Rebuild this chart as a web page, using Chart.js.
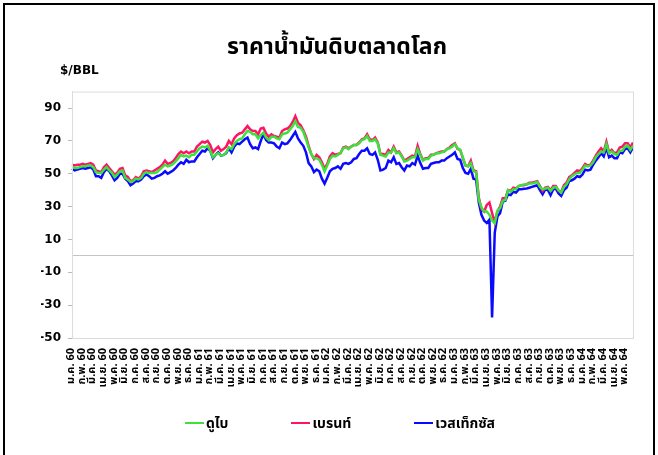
<!DOCTYPE html>
<html>
<head>
<meta charset="utf-8">
<script src="https://cdn.jsdelivr.net/npm/chart.js@4.4.1/dist/chart.umd.min.js"></script>
<style>
  html, body { margin: 0; padding: 0; background: #fff; }
  #wrap { position: relative; width: 658px; height: 455px; overflow: hidden; }
  #frame { position: absolute; left: 3px; top: 3px; width: 652px; height: 470px;
           border: 2px solid #000; box-sizing: border-box; pointer-events: none; }
  #legend { position: absolute; left: 22px; width: 636px; top: 414px; height: 18px;
            display: flex; justify-content: center; align-items: center; gap: 63px;
            font: bold 14px Tahoma, 'Noto Sans Thai', 'DejaVu Sans', sans-serif; color: #000; }
  #legend .item { display: flex; align-items: center; white-space: nowrap; }
  #legend .swatch { display: inline-block; width: 19px; height: 2px; margin-right: 2px; }
</style>
</head>
<body>
<div id="wrap">
  <canvas id="oilChart" width="658" height="455"></canvas>
  <div id="legend"></div>
  <div id="frame"></div>
</div>
<script>
// month ticks (Thai short month + Buddhist year, 2 digits)
const monthNames = ['ม.ค.', 'ก.พ.', 'มี.ค.', 'เม.ย.', 'พ.ค.', 'มิ.ย.', 'ก.ค.', 'ส.ค.', 'ก.ย.', 'ต.ค.', 'พ.ย.', 'ธ.ค.'];
const yearLabels = ['60', '61', '62', '63', '64'];
const monthCount = 53;       // ม.ค. 60 .. พ.ค. 64
const pointsPerMonth = 4;    // weekly readings

const yTicks = [-50, -30, -10, 0, 10, 30, 50, 70, 90];

// US$/bbl, 4 readings per month
const dubai = [
  // 2560
  54,53.5,53.5,54, 54.5,54.5,55,55, 54,51,50.5,50.5, 52.5,54,52,50.5, 48,49.5,51.5,52, 47.5,46.5,45,45.5,
  47,46.5,47.5,50, 51,50.5,50.5,50.5, 51,52.5,54,55.5, 54.5,55,56,57.5, 59.5,61.5,60.5,61, 60,61.5,61.5,63.5,
  // 2561
  65.5,66.5,66,67, 64,60,61.5,62.5, 61,61.5,63,66, 65,68,70,71, 71.5,74,76,75.5, 74,74,71.5,73.5,
  75,72,70.5,72.5, 72.5,71.5,71,74, 74.5,75,77,79, 82,78.5,78,75.5, 71,66,62,59.5, 59.5,58.5,55.5,51.5,
  // 2562
  55,59,61,60.5, 61.5,62.5,65.5,66, 65,66.5,67.5,67.5, 68.5,70.5,71,73, 70,70,71,68.5, 61.5,61,60.5,63,
  63,65.5,62.5,63, 60.5,57.5,58,59, 60,60,65,61.5, 58,59,59,61, 61.5,62.5,62.5,63, 63.5,65,65.5,66.5,
  // 2563
  68,65.5,64.5,60, 55,54.5,56.5,51.5, 51,34,29.5,27, 27,25,21.5,20, 27.5,29,33.5,34, 40,39,40.5,40.5,
  42.5,43,43.5,43.5, 44,44,44.5,45, 42,40.5,41,41.5, 39.5,41.5,42,40, 38.5,42,43.5,46.5, 48.5,49.5,50.5,50.5,
  // 2564
  52.5,55,54.5,55, 57,60,62,63.5, 63,68,62.5,63.5, 62,61.5,64,64, 66.5,67,64.5,67
];
const brent = [
  // 2560
  55.5,55,55.5,55.5, 56,55.5,56,56.5, 55.5,52,51.5,51, 54,55.5,53.5,51.5, 49.5,50.5,53,53.5, 49,48,45.5,46,
  48,47,48.5,51.5, 52,51.5,51,52, 53,54,55.5,58, 56,56.5,57.5,59.5, 62,63.5,62.5,63.5, 62.5,63.5,63.5,66.5,
  // 2561
  68,69.5,69,70, 67.5,63,65,66.5, 64,65,66.5,70, 68,71.5,73.5,74.5, 75,77,79,77, 76,76,74,77.5,
  78,74.5,72.5,74, 73,72.5,72,76, 77,77.5,79,81.5, 85,81,79.5,76.5, 72.5,67,62,59, 61.5,60,57,53,
  // 2562
  56,60.5,62.5,61.5, 62,62.5,66,66.5, 65.5,66.5,67.5,67.5, 69,71,71.5,74, 71,70.5,72,69, 62,62,61.5,64.5,
  63,66.5,63,63.5, 61,58,59,60, 61,60.5,67,62, 58.5,59.5,59.5,61.5, 61.5,62.5,63,63.5, 63.5,65,66,67.5,
  // 2563
  68.5,65,64.5,59.5, 55,54.5,58,52, 51.5,35.5,28.5,27, 31,32.5,26,20.5, 27,30,35,35, 40,39.5,41.5,41,
  42.5,43,43,43.5, 44.5,44.5,45,45.5, 42.5,39.5,41.5,42, 40,42.5,42.5,39.5, 39,43,44.5,48, 49,50.5,52,51.5,
  // 2564
  53.5,56,55,55.5, 58,61,63.5,65.5, 63.5,69.5,63,64.5, 62.5,63,66,66.5, 68.5,68.5,66,69
];
const wti = [
  // 2560
  53,52,52.5,53, 53.5,53,53.5,54, 52.5,48.5,48.5,47.5, 51,53,51.5,49, 46,47.5,50,50, 47,45.5,43,44,
  45.5,45.5,46.5,48.5, 49.5,48.5,47,47.5, 48.5,49,50,51.5, 50,51,52,53.5, 55.5,57,56,58.5, 57,57.5,57.5,60,
  // 2561
  62,64,63.5,65.5, 64,59.5,61.5,63, 61,61.5,62.5,65.5, 63,66.5,68.5,68, 69.5,71,72,68, 65.5,66,65,70,
  74,70.5,69,69, 68.5,66.5,65.5,69, 68,68.5,70.5,73, 75.5,71.5,69,67, 63,56.5,54.5,51, 52.5,51.5,47,44,
  // 2562
  47.5,51.5,53,53.5, 54.5,53,56,56.5, 56,57,59,59.5, 62,64,64,65.5, 62,61.5,63,58.5, 52,52.5,53.5,58,
  57,60,56,56.5, 54,52,55,54.5, 56.5,55.5,61,56.5, 53,53.5,53.5,56, 56.5,57,57,58, 58,59.5,60.5,61.5,
  // 2563
  63,59,58.5,53.5, 50.5,50,53,47, 46.5,32.5,25,21.5, 20,22,-37.5,14, 24,26,33,33.5, 37.5,37,39,38.5,
  40.5,40.5,40.8,41, 41.5,42,42.5,43, 40,37.5,40.5,40, 37,40.5,40.8,38, 36.5,40,41.5,45.5, 46,47,48.5,48,
  // 2564
  49.5,52.5,52,52.5, 55.5,58,60,62.5, 60.5,66,60,61, 59.5,59.5,63,62.5, 65,65.5,63,66
];

const labels = [];
for (let i = 0; i < monthCount * pointsPerMonth; i++) {
    labels.push(i);
}
function monthLabel(i) {
    return monthNames[i % 12] + ' ' + yearLabels[Math.floor(i / 12)];
}

const thaiFont = "Tahoma, 'Noto Sans Thai', 'Noto Sans Thai UI', 'DejaVu Sans', sans-serif";
const tickFont = "'DejaVu Sans', Verdana, sans-serif";

// light grey frame round the plot + the unit text above the axis
const plotFrame = {
    id: 'plotFrame',
    afterDraw(chart) {
        const a = chart.chartArea;
        const ctx = chart.ctx;
        ctx.save();
        ctx.strokeStyle = '#dcdcdc';
        ctx.lineWidth = 1;
        ctx.strokeRect(a.left + 0.5, a.top + 0.5, a.right - a.left, a.bottom - a.top);
        ctx.fillStyle = '#000';
        ctx.font = "bold 12px " + tickFont;
        ctx.textAlign = 'left';
        ctx.textBaseline = 'middle';
        ctx.fillText('$/BBL', 60, 71);
        ctx.restore();
    }
};

const ctx = document.getElementById('oilChart').getContext('2d');
const chart = new Chart(ctx, {
    type: 'line',
    data: {
        labels: labels,
        datasets: [
            { label: 'ดูไบ', data: dubai, borderColor: '#3ee03e', backgroundColor: '#3ee03e' },
            { label: 'เบรนท์', data: brent, borderColor: '#ff1464', backgroundColor: '#ff1464' },
            { label: 'เวสเท็กซัส', data: wti, borderColor: '#0a0aff', backgroundColor: '#0a0aff' }
        ]
    },
    options: {
        responsive: false,
        animation: false,
        layout: { padding: { left: 41, right: 25, top: 0, bottom: 55 } },
        elements: {
            point: { radius: 0 },
            line: { borderWidth: 2.5, tension: 0 }
        },
        plugins: {
            title: {
                display: true,
                text: 'ราคาน้ำมันดิบตลาดโลก',
                color: '#000',
                font: { family: thaiFont, size: 23, weight: 'bold' },
                padding: { top: 36, bottom: 28 }
            },
            legend: { display: false },
            tooltip: { enabled: false }
        },
        scales: {
            x: {
                type: 'category',
                offset: false,
                grid: { display: false, drawTicks: false },
                border: { color: '#dcdcdc' },
                afterFit(scale) { scale.height = 62; },
                ticks: {
                    autoSkip: false,
                    minRotation: 90,
                    maxRotation: 90,
                    padding: 10,
                    color: '#000',
                    font: { family: thaiFont, size: 11, weight: 'bold' },
                    callback(value, index) {
                        return index % pointsPerMonth === 0 ? monthLabel(index / pointsPerMonth) : null;
                    }
                }
            },
            y: {
                min: -50,
                max: 100,
                afterBuildTicks(scale) {
                    scale.ticks = yTicks.map(v => ({ value: v }));
                },
                afterFit(scale) { scale.width = 31; },
                border: { color: '#dcdcdc' },
                grid: {
                    tickLength: 4,
                    color: c => (c.tick && c.tick.value === 0) ? '#c4c4c4' : 'rgba(0,0,0,0)',
                    tickColor: c => (c.tick && c.tick.value === 0) ? 'rgba(0,0,0,0)' : '#bcbcbc'
                },
                ticks: {
                    padding: 7,
                    color: '#000',
                    font: { family: tickFont, size: 12, weight: 'bold' },
                    callback: v => v === 0 ? '' : v
                }
            }
        }
    },
    plugins: [plotFrame]
});

// legend row under the axis: short line + series name
const legendBox = document.getElementById('legend');
chart.data.datasets.forEach(function (ds) {
    const item = document.createElement('span');
    item.className = 'item';
    const sw = document.createElement('span');
    sw.className = 'swatch';
    sw.style.background = ds.borderColor;
    item.appendChild(sw);
    item.appendChild(document.createTextNode(ds.label));
    legendBox.appendChild(item);
});
</script>
</body>
</html>
